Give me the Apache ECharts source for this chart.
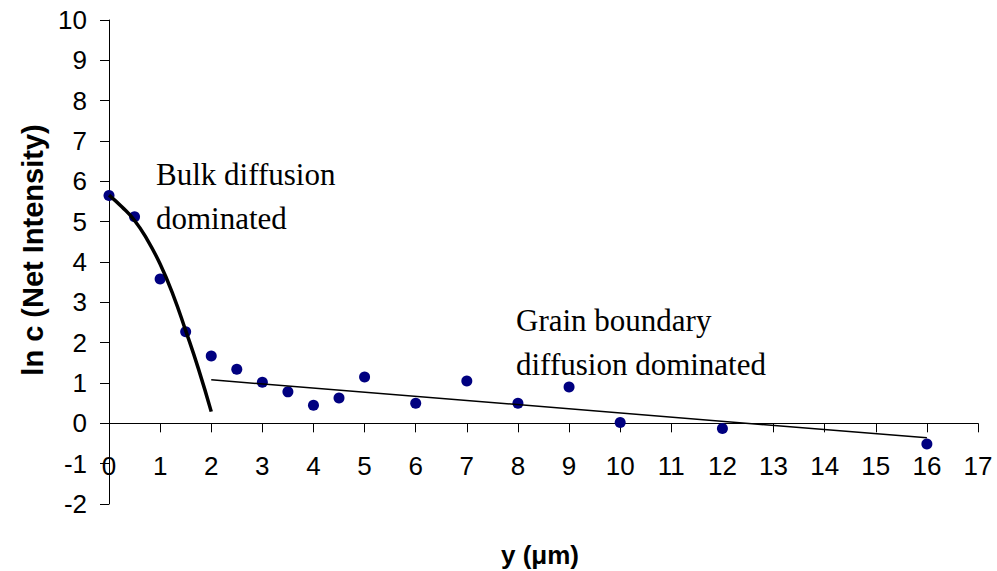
<!DOCTYPE html>
<html>
<head>
<meta charset="utf-8">
<script src="https://cdn.jsdelivr.net/npm/echarts@6/dist/echarts.min.js"></script>
<style>
  html, body { margin: 0; padding: 0; background: #ffffff; }
  #chart { width: 997px; height: 571px; }
</style>
</head>
<body>
<div id="chart"></div>
<script>
// Measured depth profile: depth y (µm) and ln of net intensity
const depthUm = [0, 0.5, 1, 1.5, 2, 2.5, 3, 3.5, 4, 4.5, 5, 6, 7, 8, 9, 10, 12, 16];
const lnIntensity = [5.65, 5.12, 3.58, 2.27, 1.67, 1.34, 1.02, 0.78, 0.45, 0.63, 1.15, 0.50, 1.05, 0.50, 0.90, 0.02, -0.13, -0.51];

// Bulk-diffusion fit curve (near-surface region)
const bulkFitX = [0, 0.25, 0.5, 0.75, 1, 1.25, 1.5, 1.75, 2];
const bulkFitY = [5.66, 5.37, 5.03, 4.55, 3.95, 3.2, 2.3, 1.35, 0.29];

// Grain-boundary fit line (deep region)
const gbFitX = [2, 16];
const gbFitY = [1.08, -0.36];

// Axis ranges
const xTicks = { min: 0, max: 17, step: 1 };
const yTicks = { min: -2, max: 10, step: 1 };

const zip = (xs, ys) => xs.map((x, i) => [x, ys[i]]);

const sans = '"Liberation Sans", Arial, sans-serif';
const serif = '"Liberation Serif", "Times New Roman", serif';

// Plot area in pixels
const gridBox = { left: 109, right: 19, top: 20, bottom: 67 };
const plotHeight = 571 - gridBox.top - gridBox.bottom;
// Lift the x axis from the bottom edge (y = min) up to y = 0
const xAxisLift = -plotHeight * (0 - yTicks.min) / (yTicks.max - yTicks.min);

const chart = echarts.init(document.getElementById('chart'), null, { renderer: 'svg' });

chart.setOption({
  animation: false,
  backgroundColor: '#ffffff',
  grid: Object.assign({ containLabel: false }, gridBox),
  xAxis: {
    type: 'value',
    position: 'bottom',
    offset: xAxisLift,
    min: xTicks.min, max: xTicks.max, interval: xTicks.step,
    axisLine: { onZero: false, lineStyle: { color: '#000', width: 1 } },
    axisTick: { show: true, inside: false, length: 9, lineStyle: { color: '#000' } },
    axisLabel: { color: '#000', fontFamily: sans, fontSize: 26, margin: 30 },
    splitLine: { show: false }
  },
  yAxis: {
    type: 'value',
    min: yTicks.min, max: yTicks.max, interval: yTicks.step,
    axisLine: { show: true, onZero: false, lineStyle: { color: '#000', width: 1 } },
    axisTick: { show: true, inside: false, length: 9, lineStyle: { color: '#000' } },
    axisLabel: { color: '#000', fontFamily: sans, fontSize: 26, margin: 22 },
    splitLine: { show: false }
  },
  series: [
    {
      name: 'ln c',
      type: 'scatter',
      data: zip(depthUm, lnIntensity),
      symbol: 'circle',
      symbolSize: 11,
      itemStyle: { color: '#000080', opacity: 1 },
      clip: false,
      z: 2
    },
    {
      name: 'Bulk fit',
      type: 'line',
      data: zip(bulkFitX, bulkFitY),
      smooth: true,
      showSymbol: false,
      lineStyle: { color: '#000', width: 3.5 },
      clip: false,
      z: 3
    },
    {
      name: 'Grain boundary fit',
      type: 'line',
      data: zip(gbFitX, gbFitY),
      showSymbol: false,
      lineStyle: { color: '#000', width: 1.5 },
      clip: false,
      z: 3
    }
  ],
  graphic: [
    {
      type: 'text', left: 156, top: 152,
      style: { text: 'Bulk diffusion\ndominated', font: '31px ' + serif, fill: '#000', lineHeight: 44 }
    },
    {
      type: 'text', left: 516, top: 298,
      style: { text: 'Grain boundary\ndiffusion dominated', font: '31px ' + serif, fill: '#000', lineHeight: 44 }
    },
    {
      type: 'text', x: 33, y: 250, rotation: Math.PI / 2,
      style: {
        text: 'ln c (Net Intensity)', font: 'bold 29px ' + sans, fill: '#000',
        textAlign: 'center', textVerticalAlign: 'middle'
      }
    },
    {
      type: 'text', x: 540, y: 555,
      style: {
        text: 'y (\u03bcm)', font: 'bold 26px ' + sans, fill: '#000',
        textAlign: 'center', textVerticalAlign: 'middle'
      }
    }
  ]
});
</script>
</body>
</html>
